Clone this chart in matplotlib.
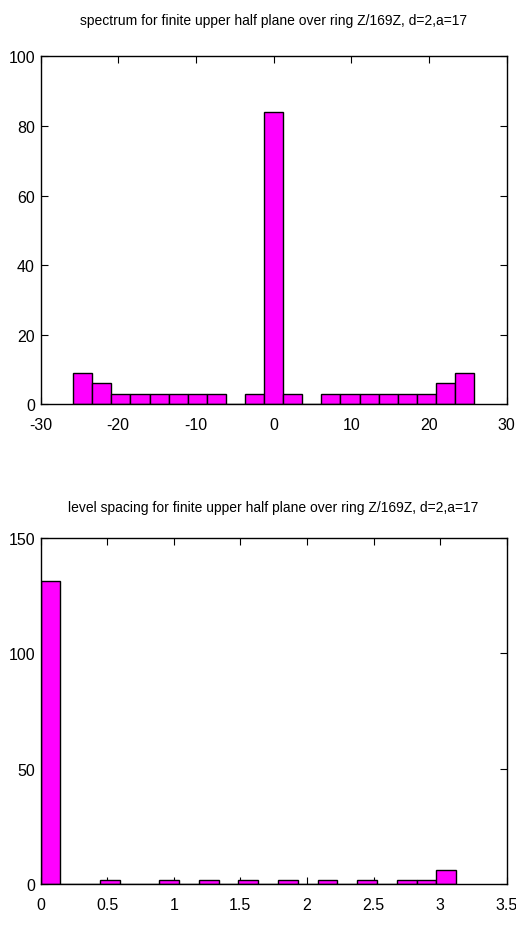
import numpy as np
import matplotlib
matplotlib.use('Agg')
import matplotlib.pyplot as plt

# histogram of eigenvalues (21 bins over the spectrum range)
spec_lo, spec_hi = -25.8, 25.8
spec_counts = [9, 6, 3, 3, 3, 3, 3, 3, 0, 3, 84, 3, 0, 3, 3, 3, 3, 3, 3, 6, 9]

# histogram of level spacings (21 bins)
gap_lo, gap_hi = 0.0, 3.12
gap_counts = [131, 0, 0, 2, 0, 0, 2, 0, 2, 0, 2, 0, 2, 0, 2, 0, 2, 0, 2, 2, 6]

spec_xticks = [-30, -20, -10, 0, 10, 20, 30]
spec_yticks = [0, 20, 40, 60, 80, 100]
gap_xticks = [0, 0.5, 1, 1.5, 2, 2.5, 3, 3.5]
gap_xlabels = ['0', '0.5', '1', '1.5', '2', '2.5', '3', '3.5']
gap_yticks = [0, 50, 100, 150]

title_spec = 'spectrum for finite upper half plane over ring Z/169Z, d=2,a=17'
title_gap = 'level spacing for finite upper half plane over ring Z/169Z, d=2,a=17'

plt.rcParams['font.family'] = ['Liberation Sans', 'DejaVu Sans']
plt.rcParams['axes.unicode_minus'] = False


def draw_hist(ax, lo, hi, counts):
    edges = np.linspace(lo, hi, len(counts) + 1)
    ax.bar(edges[:-1], counts, width=np.diff(edges), align='edge',
           color='#ff00ff', edgecolor='black', linewidth=1.0, zorder=2)


def style_axes(ax, title, title_pad):
    ax.set_title(title, fontsize=10, pad=title_pad)
    ax.tick_params(direction='in', top=True, right=True, length=5,
                   width=0.8, labelsize=11.5, pad=9)
    ax.tick_params(axis='y', pad=4)
    for s in ax.spines.values():
        s.set_linewidth(1.0)


fig = plt.figure(figsize=(5.16, 9.29), dpi=100)

ax1 = fig.add_axes([0.0785, 0.5637, 0.9035, 0.3746])
draw_hist(ax1, spec_lo, spec_hi, spec_counts)
ax1.set_xlim(-30, 30)
ax1.set_ylim(0, 100)
ax1.set_xticks(spec_xticks)
ax1.set_yticks(spec_yticks)
style_axes(ax1, title_spec, 23)

ax2 = fig.add_axes([0.0785, 0.047, 0.9035, 0.3733])
draw_hist(ax2, gap_lo, gap_hi, gap_counts)
ax2.set_xlim(0, 3.5)
ax2.set_ylim(0, 150)
ax2.set_xticks(gap_xticks)
ax2.set_xticklabels(gap_xlabels)
ax2.set_yticks(gap_yticks)
style_axes(ax2, title_gap, 19)

fig.savefig('out.png', dpi=100)
